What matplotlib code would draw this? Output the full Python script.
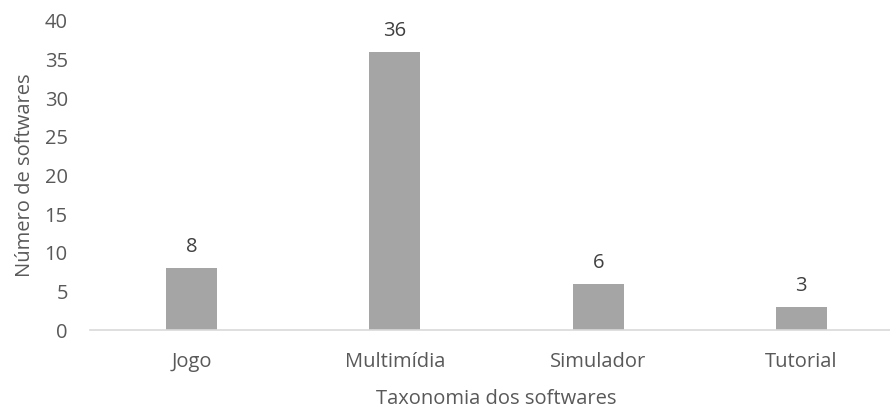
import matplotlib.pyplot as plt
import numpy as np

categories = ['Jogo', 'Multimídia', 'Simulador', 'Tutorial']
counts = [8, 36, 6, 3]
yticks = [0, 5, 10, 15, 20, 25, 30, 35, 40]

plt.rcParams['font.family'] = ['Open Sans', 'DejaVu Sans']
text_color = '#595959'
fs = 14.5

fig = plt.figure(figsize=(8.9, 4.09), dpi=100)
# axes runs slightly past the right edge, like the cropped original
ax = fig.add_axes([90 / 890, 1 - 330 / 409, 813 / 890, 309 / 409])

x = np.arange(len(categories))
bars = ax.bar(x, counts, width=0.25, color='#A5A5A5', zorder=2)

for xi, c in zip(x, counts):
    ax.annotate(str(c), (xi, c), xytext=(0, 8), textcoords='offset points',
                ha='center', va='bottom', fontsize=fs, color='#404040')

ax.set_xlim(-0.5, len(categories) - 0.5)
ax.set_ylim(0, 40)
ax.set_yticks(yticks)
ax.set_xticks(x)
ax.set_xticklabels(categories)

for s in ['top', 'right', 'left']:
    ax.spines[s].set_visible(False)
ax.spines['bottom'].set_color('#D9D9D9')
ax.spines['bottom'].set_linewidth(1.2)

ax.tick_params(axis='both', length=0, labelsize=fs, colors=text_color)
ax.tick_params(axis='y', pad=16)
ax.tick_params(axis='x', pad=16)

ax.set_xlabel('Taxonomia dos softwares', fontsize=fs, color=text_color, labelpad=12)
ax.set_ylabel('Número de softwares', fontsize=fs, color=text_color, labelpad=7)

fig.savefig('out.png', dpi=100)
